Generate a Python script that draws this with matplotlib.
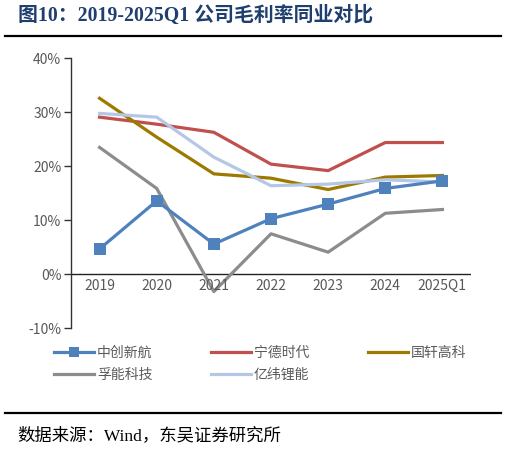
import matplotlib
matplotlib.use('Agg')
import matplotlib.pyplot as plt
from matplotlib.lines import Line2D
from matplotlib.ticker import FuncFormatter

plt.rcParams['font.family'] = ['Noto Sans CJK SC', 'DejaVu Sans']

years = ['2019', '2020', '2021', '2022', '2023', '2024', '2025Q1']
zhongchuang = [4.7, 13.6, 5.6, 10.3, 13.0, 15.9, 17.3]
ningde = [29.1, 27.8, 26.3, 20.4, 19.2, 24.4, 24.4]
guoxuan = [32.6, 25.4, 18.6, 17.8, 15.7, 18.0, 18.3]
funeng = [23.5, 15.9, -3.2, 7.5, 4.1, 11.3, 12.0]
yiwei = [29.8, 29.1, 21.7, 16.4, 16.7, 17.5, 17.1]

names = ['中创新航', '宁德时代', '国轩高科', '孚能科技', '亿纬锂能']
colors = ['#4F81BD', '#C0504D', '#9C7A00', '#8C8C8C', '#B4C7E7']

fig = plt.figure(figsize=(5.07, 4.49), dpi=100)
ax = fig.add_axes([71 / 507, 1 - 328.3 / 449, 400 / 507, 270 / 449])

x = list(range(len(years)))
series = [zhongchuang, ningde, guoxuan, funeng, yiwei]
handles = []
for i, (vals, c) in enumerate(zip(series, colors)):
    if i == 0:
        ax.plot(x, vals, color=c, lw=2.3, marker='s', markersize=8.5,
                markeredgewidth=0, zorder=3)
        handles.append(Line2D([], [], color=c, lw=2.3, marker='s', markersize=7,
                              markeredgewidth=0))
    else:
        ax.plot(x, vals, color=c, lw=2.3, zorder=2)
        handles.append(Line2D([], [], color=c, lw=2.3))

ax.set_xlim(-0.5, 6.5)
ax.set_ylim(-10, 40)
ax.set_yticks([-10, 0, 10, 20, 30, 40])
ax.yaxis.set_major_formatter(FuncFormatter(lambda v, p: '{:.0f}%'.format(v)))
ax.tick_params(axis='y', length=5, width=1, color='#333333',
               labelcolor='#595959', labelsize=10, pad=2)
ax.set_xticks([])
for s in ['top', 'right', 'bottom']:
    ax.spines[s].set_visible(False)
ax.spines['left'].set_color('#333333')
ax.spines['left'].set_linewidth(1)
ax.axhline(0, color='#222222', lw=1, zorder=1)

for i, y in enumerate(years):
    ax.text(i, -2.2, y, ha='center', va='center', color='#595959', fontsize=10)

# legend fills column by column, so reorder to get rows like the original
order = [0, 3, 1, 4, 2]
fig.legend([handles[k] for k in order], [names[k] for k in order],
           loc='upper left', bbox_to_anchor=(54 / 507, 1 - 345.5 / 449),
           ncol=3, frameon=False, fontsize=10, labelcolor='#595959',
           handlelength=2.9, handletextpad=0.2, columnspacing=4.2,
           labelspacing=0.62, borderaxespad=0, borderpad=0)

fig.text(18 / 507, 1 - 16 / 449, '图10：2019-2025Q1 公司毛利率同业对比',
         family=['Liberation Serif', 'Noto Sans CJK SC'], fontweight='bold',
         fontsize=14.3, color='#1F3F6E', ha='left', va='center')
fig.add_artist(Line2D([5 / 507, 501 / 507], [1 - 35.5 / 449, 1 - 35.5 / 449],
                      color='black', lw=1.6))
fig.add_artist(Line2D([5 / 507, 501 / 507], [1 - 412.5 / 449, 1 - 412.5 / 449],
                      color='black', lw=1.6))
fig.text(17 / 507, 1 - 436 / 449, '数据来源：Wind，东吴证券研究所',
         family=['Liberation Serif', 'Noto Sans CJK SC'], fontsize=12.5,
         color='black', ha='left', va='center')

fig.savefig('out.png', dpi=100)
